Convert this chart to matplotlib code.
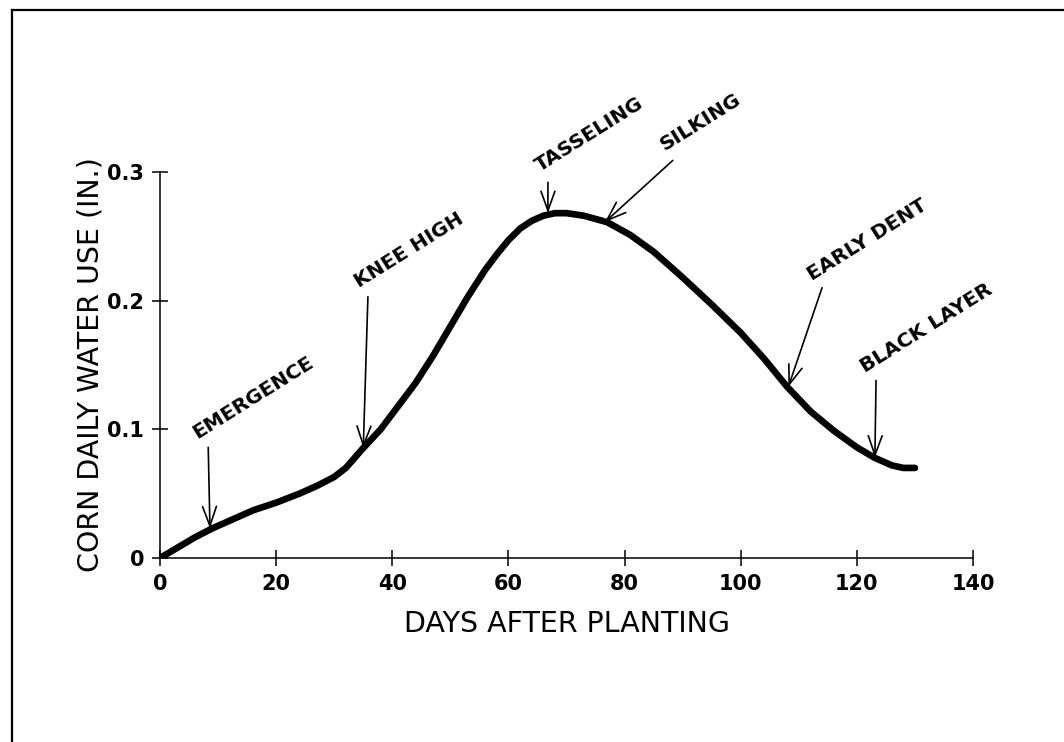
import matplotlib
matplotlib.use("Agg")
import matplotlib.pyplot as plt
from matplotlib.lines import Line2D

# corn daily water use curve
days = [0, 3, 6, 9, 12, 16, 20, 24, 27, 30, 32, 35, 38, 41, 44, 47, 50, 53,
        56, 58, 60, 62, 64, 66, 68, 70, 73, 77, 81, 85, 90, 95, 100, 104,
        108, 112, 116, 120, 123, 126, 128, 130]
water_use = [0.0, 0.008, 0.016, 0.023, 0.029, 0.037, 0.043, 0.050, 0.056,
             0.063, 0.070, 0.0855, 0.100, 0.118, 0.136, 0.157, 0.180, 0.203,
             0.224, 0.236, 0.247, 0.256, 0.262, 0.266, 0.268, 0.268, 0.266,
             0.261, 0.251, 0.238, 0.218, 0.197, 0.175, 0.155, 0.133, 0.114,
             0.099, 0.086, 0.078, 0.072, 0.070, 0.070]

# stage labels: (text, arrow tip, arrow start, text anchor)
stages = ["EMERGENCE", "KNEE HIGH", "TASSELING", "SILKING", "EARLY DENT", "BLACK LAYER"]
tips = [(8.6, 0.023), (35.0, 0.0855), (66.8, 0.268), (76.6, 0.261), (108.2, 0.133), (123.1, 0.078)]
starts = [(8.3, 0.086), (35.8, 0.203), (66.8, 0.292), (88.3, 0.309), (114.0, 0.210), (123.3, 0.138)]
text_pos = [(6.8, 0.090), (34.6, 0.207), (65.8, 0.297), (87.3, 0.314), (112.6, 0.213), (121.8, 0.141)]

xticks = [0, 20, 40, 60, 80, 100, 120, 140]
yticks = [0, 0.1, 0.2, 0.3]
ytick_labels = ["0", "0.1", "0.2", "0.3"]

fig = plt.figure(figsize=(10.64, 7.42), dpi=100)
ax = fig.add_axes([0.1504, 0.2480, 0.7641, 0.5202])

ax.plot(days, water_use, color="black", lw=4.8, solid_capstyle="round",
        solid_joinstyle="round")

for name, tip, st, tp in zip(stages, tips, starts, text_pos):
    ax.annotate("", xy=tip, xytext=st,
                arrowprops=dict(arrowstyle="->,head_length=0.7,head_width=0.25",
                                mutation_scale=20, lw=1.2, color="black",
                                shrinkA=0, shrinkB=0))
    ax.text(tp[0], tp[1], name, rotation=32, rotation_mode="anchor",
            ha="left", va="bottom", fontsize=14.5, fontweight="bold",
            clip_on=False)

ax.set_xlim(0, 140)
ax.set_ylim(0, 0.3)
ax.set_xticks(xticks)
ax.set_yticks(yticks)
ax.set_yticklabels(ytick_labels)
ax.tick_params(direction="inout", length=11, width=1.1, labelsize=15, pad=6)
for lab in ax.get_xticklabels() + ax.get_yticklabels():
    lab.set_fontweight("bold")

ax.spines["top"].set_visible(False)
ax.spines["right"].set_visible(False)
ax.spines["left"].set_linewidth(1.1)
ax.spines["bottom"].set_linewidth(1.1)

ax.set_xlabel("DAYS AFTER PLANTING", fontsize=20.5)
ax.xaxis.set_label_coords(0.5, -0.135)
ax.set_ylabel("CORN DAILY WATER USE (IN.)", fontsize=20.5)
ax.yaxis.set_label_coords(-0.068, 0.5)

# frame around the page (top and left edges only visible)
fig.add_artist(Line2D([12 / 1064, 1.0], [1 - 10 / 742, 1 - 10 / 742],
                      transform=fig.transFigure, color="black", lw=1.6))
fig.add_artist(Line2D([12 / 1064, 12 / 1064], [0.0, 1 - 10 / 742],
                      transform=fig.transFigure, color="black", lw=1.6))

fig.savefig("out.png", dpi=100)
